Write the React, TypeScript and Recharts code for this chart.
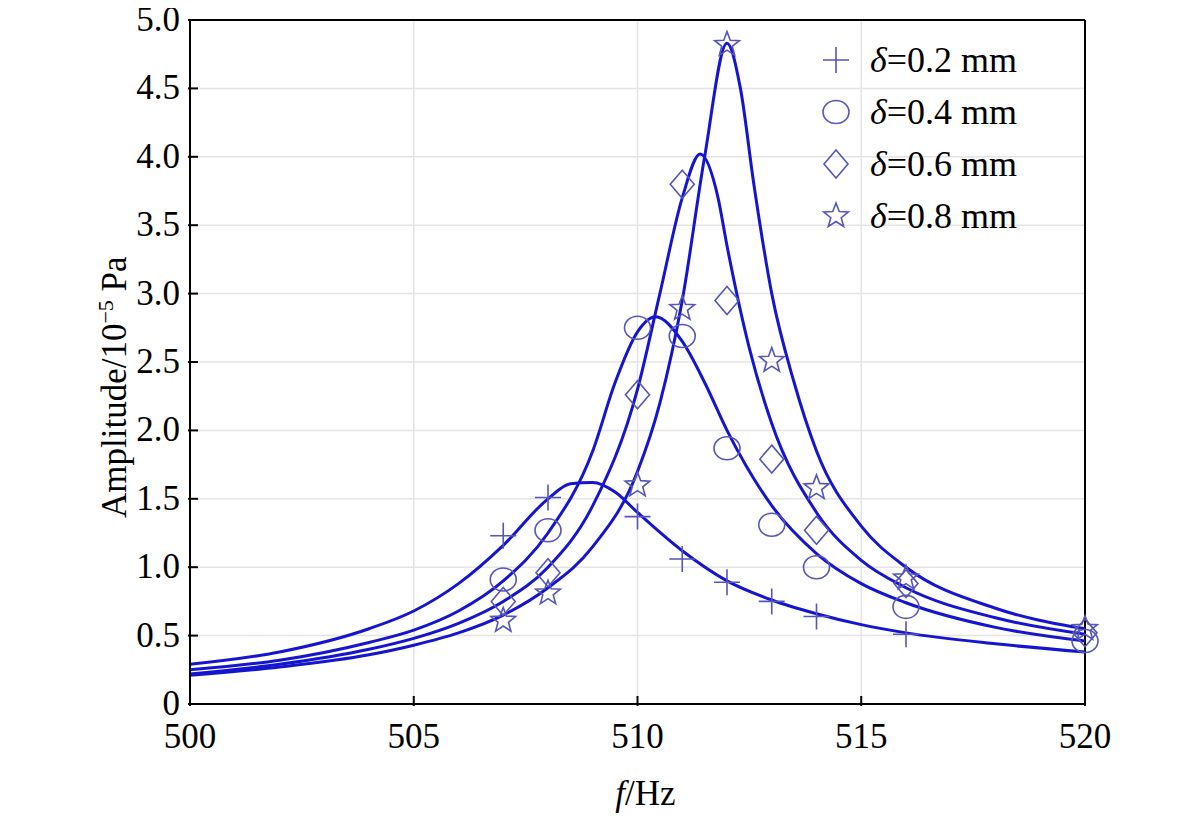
import React from "react";
import {
  ComposedChart,
  Line,
  Scatter,
  XAxis,
  YAxis,
  CartesianGrid,
  ReferenceLine,
} from "recharts";

// measured points (f in Hz, amplitude in 1e-5 Pa)
const measFreq = [507, 508, 510, 511, 512, 513, 514, 516, 520];
const meas02 = [1.23, 1.51, 1.37, 1.06, 0.89, 0.75, 0.64, 0.51, null];
const meas04 = [0.91, 1.27, 2.75, 2.69, 1.87, 1.31, 1.0, 0.71, 0.46];
const meas06 = [0.75, 0.96, 2.26, 3.8, 2.95, 1.79, 1.27, 0.88, 0.52];
const meas08 = [0.61, 0.81, 1.6, 2.89, 4.82, 2.51, 1.58, 0.92, 0.55];

// fitted curves
const fit02F = [500, 502, 504, 505, 506, 507, 508, 508.5, 509, 509.5, 510, 511, 512, 513, 514, 515, 516, 518, 520];
const fit02A = [0.29, 0.38, 0.55, 0.68, 0.88, 1.16, 1.5, 1.61, 1.62, 1.55, 1.4, 1.12, 0.9, 0.76, 0.66, 0.58, 0.52, 0.44, 0.38];
const fit04F = [500, 502, 504, 505, 506, 507, 508, 509, 509.5, 510, 510.4, 511, 511.5, 512, 513, 514, 515, 516, 518, 520];
const fit04A = [0.25, 0.32, 0.45, 0.54, 0.68, 0.9, 1.25, 1.85, 2.35, 2.72, 2.83, 2.65, 2.35, 2.0, 1.45, 1.1, 0.88, 0.74, 0.56, 0.46];
const fit06F = [500, 502, 504, 505, 506, 507, 508, 509, 510, 510.5, 511, 511.4, 511.8, 512, 512.5, 513, 514, 515, 516, 518, 520];
const fit06A = [0.22, 0.29, 0.4, 0.48, 0.59, 0.75, 1.0, 1.45, 2.3, 3.0, 3.7, 4.02, 3.7, 3.35, 2.6, 2.05, 1.4, 1.05, 0.85, 0.63, 0.51];
const fit08F = [500, 502, 504, 505, 506, 507, 508, 509, 510, 510.5, 511, 511.5, 512, 512.3, 512.6, 513, 513.5, 514, 515, 516, 518, 520];
const fit08A = [0.21, 0.27, 0.36, 0.43, 0.52, 0.65, 0.85, 1.15, 1.7, 2.2, 2.95, 4.0, 4.83, 4.5, 3.8, 3.0, 2.35, 1.85, 1.3, 1.0, 0.7, 0.55];

const xTicks = [500, 505, 510, 515, 520];
const yTicks = [0, 0.5, 1, 1.5, 2, 2.5, 3, 3.5, 4, 4.5, 5];
const labels = ["δ=0.2 mm", "δ=0.4 mm", "δ=0.6 mm", "δ=0.8 mm"];
const kinds = ["plus", "circle", "diamond", "star"];

const LINE = "#1515d0";
const MARK = "#5656b8";
const FONT = "'Liberation Serif', 'Times New Roman', serif";

const zip = (xs: number[], ys: (number | null)[]) =>
  xs.map((f, i) => ({ f, a: ys[i] })).filter((p) => p.a != null);

function Marker({ kind, cx, cy }: { kind: string; cx: number; cy: number }) {
  const p = { fill: "none", stroke: MARK, strokeWidth: 1.6 };
  if (kind === "plus")
    return <path d={`M${cx - 13},${cy}H${cx + 13}M${cx},${cy - 13}V${cy + 13}`} {...p} />;
  if (kind === "circle") return <ellipse cx={cx} cy={cy} rx={13} ry={11.5} {...p} />;
  if (kind === "diamond")
    return <path d={`M${cx},${cy - 14}L${cx + 12},${cy}L${cx},${cy + 14}L${cx - 12},${cy}Z`} {...p} />;
  const pts: string[] = [];
  for (let i = 0; i < 10; i++) {
    const r = i % 2 === 0 ? 13 : 5.5;
    const t = -Math.PI / 2 + (i * Math.PI) / 5;
    pts.push(`${cx + r * Math.cos(t)},${cy + r * Math.sin(t)}`);
  }
  return <polygon points={pts.join(" ")} {...p} />;
}

const XTick = ({ x, y, payload }: any) => (
  <g>
    <line x1={x} x2={x} y1={y} y2={y - 10} stroke="#000" strokeWidth={2} />
    <text x={x} y={y + 42} textAnchor="middle" fontSize={35} fontFamily={FONT} fill="#000">
      {payload.value}
    </text>
  </g>
);

const YTick = ({ x, y, payload }: any) => (
  <g>
    <line x1={x} x2={x + 10} y1={y} y2={y} stroke="#000" strokeWidth={2} />
    <text x={x - 8} y={y + 11} textAnchor="end" fontSize={35} fontFamily={FONT} fill="#000">
      {payload.value === 0 ? "0" : payload.value.toFixed(1)}
    </text>
  </g>
);

const meas = [meas02, meas04, meas06, meas08];
const fits = [
  zip(fit02F, fit02A),
  zip(fit04F, fit04A),
  zip(fit06F, fit06A),
  zip(fit08F, fit08A),
];

export default function App() {
  return (
    <div style={{ position: "relative", width: 1165, height: 816 }}>
      <ComposedChart width={1165} height={816} margin={{ top: 12, right: 88, bottom: 60, left: 102 }}>
        <CartesianGrid stroke="#e4e4e4" strokeWidth={1.5} />
        <XAxis
          type="number"
          dataKey="f"
          domain={[500, 520]}
          ticks={xTicks}
          tickSize={0}
          tickLine={false}
          tick={<XTick />}
          axisLine={{ stroke: "#000", strokeWidth: 2 }}
          height={60}
          allowDuplicatedCategory={false}
        />
        <YAxis
          type="number"
          dataKey="a"
          domain={[0, 5]}
          ticks={yTicks}
          tickSize={0}
          tickLine={false}
          tick={<YTick />}
          axisLine={{ stroke: "#000", strokeWidth: 2 }}
          width={80}
        />
        <ReferenceLine y={5} stroke="#000" strokeWidth={2} />
        <ReferenceLine x={520} stroke="#000" strokeWidth={2} />
        {fits.map((d, i) => (
          <Line key={"l" + i} data={d} dataKey="a" type="monotone" stroke={LINE} strokeWidth={3}
            dot={false} isAnimationActive={false} />
        ))}
        {meas.map((m, i) => (
          <Scatter key={"s" + i} data={zip(measFreq, m)} dataKey="a" isAnimationActive={false}
            shape={(props: any) => <Marker kind={kinds[i]} cx={props.cx} cy={props.cy} />} />
        ))}
      </ComposedChart>
      <div style={{ position: "absolute", left: 115, top: 210, width: 0, height: 0 }}>
        <div style={{ transform: "rotate(-90deg)", transformOrigin: "0 0", position: "absolute",
          left: -30, top: 300, whiteSpace: "nowrap", fontFamily: FONT, fontSize: 35 }}>
          Amplitude/10<sup style={{ fontSize: 22 }}>−5</sup> Pa
        </div>
      </div>
      <div style={{ position: "absolute", left: 0, width: 1275, top: 766, textAlign: "center",
        fontFamily: FONT, fontSize: 35 }}>
        <i>f</i>/Hz
      </div>
      <div style={{ position: "absolute", left: 808, top: 26 }}>
        {labels.map((l, i) => (
          <div key={l} style={{ display: "flex", alignItems: "center", height: 52 }}>
            <svg width={40} height={40}>
              <Marker kind={kinds[i]} cx={20} cy={20} />
            </svg>
            <span style={{ fontFamily: FONT, fontSize: 36, marginLeft: 14 }}>
              <i>δ</i>
              {l.slice(1)}
            </span>
          </div>
        ))}
      </div>
    </div>
  );
}
